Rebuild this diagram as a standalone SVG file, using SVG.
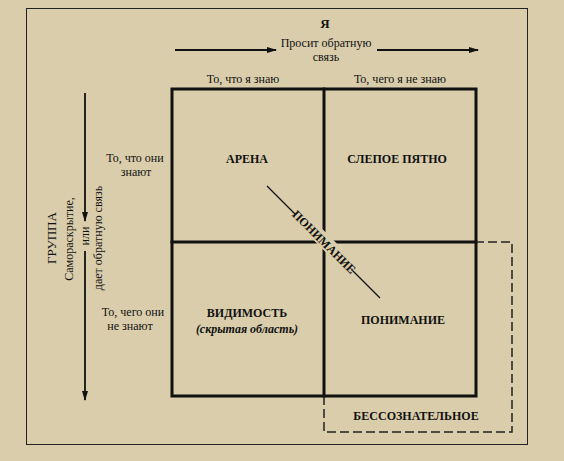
<svg xmlns="http://www.w3.org/2000/svg" width="564" height="461" viewBox="0 0 564 461">
<style>
text{font-family:"Liberation Serif","Times New Roman",serif;fill:#111;}
.s{font-size:12px;text-anchor:middle;}
.q{font-size:12px;text-anchor:middle;font-weight:bold;}
.g{stroke:#111;stroke-width:3;fill:none;stroke-linecap:square;}
.a{stroke:#111;stroke-width:1.8;fill:none;}
</style>
<defs>
<marker id="ah" markerWidth="10" markerHeight="8" refX="9" refY="4" orient="auto" markerUnits="userSpaceOnUse">
<path d="M0,1 L10,4 L0,7 Z" fill="#111"/>
</marker>
</defs>
<rect x="0" y="0" width="564" height="461" fill="#dacdab"/>
<rect x="26.5" y="8.5" width="501" height="436" fill="none" stroke="#222" stroke-width="1"/>

<g id="connectors">
<line class="a" x1="175" y1="50" x2="276" y2="50" marker-end="url(#ah)"/>
<line class="a" x1="377" y1="50" x2="478" y2="50" marker-end="url(#ah)"/>
<line class="a" x1="85" y1="93" x2="85" y2="221" marker-end="url(#ah)"/>
<line class="a" x1="85" y1="251" x2="85" y2="400" marker-end="url(#ah)"/>
<line stroke="#111" stroke-width="1.2" x1="267" y1="186" x2="296" y2="215"/>
<line stroke="#111" stroke-width="1.2" x1="351" y1="269" x2="380" y2="298"/>
</g>

<g id="grid">
<rect class="g" x="172" y="89" width="304" height="307"/>
<line class="g" x1="324" y1="89" x2="324" y2="396"/>
<line class="g" x1="172" y1="242" x2="476" y2="242"/>
</g>

<g id="unconscious">
<path d="M324,396 L324,432 L512,432 L512,242 L478,242" fill="none" stroke="#222" stroke-width="1.5" stroke-dasharray="9,4"/>
<text class="q" x="416" y="420">БЕССОЗНАТЕЛЬНОЕ</text>
</g>

<g id="diag">
<g transform="translate(324,242) rotate(45)">
<rect x="-40" y="-8" width="80" height="14" fill="#dacdab"/>
<text class="q" x="0" y="4">ПОНИМАНИЕ</text>
</g>
</g>

<g id="top-labels">
<text class="q" x="325" y="28" style="font-size:13px">Я</text>
<text class="s" x="326" y="47">Просит обратную</text>
<text class="s" x="326" y="61">связь</text>
<text class="s" x="243" y="83">То, что я знаю</text>
<text class="s" x="400" y="83">То, чего я не знаю</text>
</g>

<g id="left-labels">
<text class="s" x="135" y="162">То, что они</text>
<text class="s" x="136" y="176">знают</text>
<text class="s" x="133" y="316">То, чего они</text>
<text class="s" x="130" y="330">не знают</text>
<text class="s" transform="translate(56,238) rotate(-90)" style="font-size:13px">ГРУППА</text>
<text class="s" transform="translate(73,239) rotate(-90)">Самораскрытие,</text>
<text class="s" transform="translate(89,236) rotate(-90)">или</text>
<text class="s" transform="translate(102,238) rotate(-90)">дает обратную связь</text>
</g>

<g id="arena"><text class="q" x="247" y="163">АРЕНА</text></g>
<g id="blind"><text class="q" x="397" y="163">СЛЕПОЕ ПЯТНО</text></g>
<g id="hidden">
<text class="q" x="247" y="317">ВИДИМОСТЬ</text>
<text class="s" x="247" y="333" style="font-style:italic;font-weight:bold">(скрытая область)</text>
</g>
<g id="understanding"><text class="q" x="403" y="324">ПОНИМАНИЕ</text></g>
</svg>
